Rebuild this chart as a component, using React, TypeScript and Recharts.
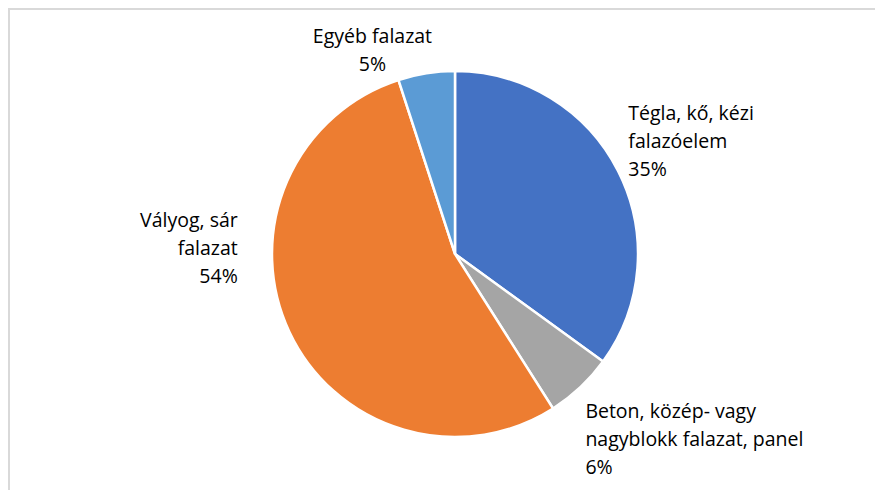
import { PieChart, Pie, Cell } from "recharts";

const categories = [
  ["Tégla, kő, kézi", "falazóelem"],
  ["Beton, közép- vagy", "nagyblokk falazat, panel"],
  ["Vályog, sár", "falazat"],
  ["Egyéb falazat"],
];
const shares = [35, 6, 54, 5];
const sliceColors = ["#4472C4", "#A5A5A5", "#ED7D31", "#5B9BD5"];

// label placement relative to the slice's mid-angle point (outerRadius + 25)
const labelLayout = [
  { dx: -12, dy: -20, anchor: "start" },
  { dx: -12, dy: 32, anchor: "start" },
  { dx: -29, dy: -96, anchor: "end" },
  { dx: -50, dy: 0, anchor: "middle" },
];

const chartData = categories.map((lines, i) => ({
  name: lines.join(" "),
  lines,
  value: shares[i],
}));

const RADIAN = Math.PI / 180;
const LINE_H = 28;

const renderLabel = (props: any) => {
  const { cx, cy, midAngle, outerRadius, index, payload } = props;
  const r = outerRadius + 25;
  const px = cx + r * Math.cos(-midAngle * RADIAN);
  const py = cy + r * Math.sin(-midAngle * RADIAN);
  const lay = labelLayout[index];
  const lines: string[] = [...payload.lines, `${payload.value}%`];
  const x = px + lay.dx;
  const yCenter = py + lay.dy;
  const yStart = yCenter - ((lines.length - 1) * LINE_H) / 2;
  return (
    <text
      x={x}
      y={yStart}
      textAnchor={lay.anchor}
      dominantBaseline="central"
      fill="#000"
      fontSize={19.5}
      fontFamily="'Open Sans', sans-serif"
    >
      {lines.map((ln, i) => (
        <tspan key={i} x={x} y={yStart + i * LINE_H}>
          {ln}
        </tspan>
      ))}
    </text>
  );
};

export default function App() {
  return (
    <>
      <style>{`body{overflow:hidden}`}</style>
      <div
        style={{
          width: 880,
          height: 490,
          border: "2px solid #d9d9d9",
          background: "#fff",
        }}
      >
        <PieChart width={873} height={480}>
          <Pie
            data={chartData}
            dataKey="value"
            nameKey="name"
            cx={440}
            cy={239}
            outerRadius={183}
            startAngle={90}
            endAngle={-270}
            stroke="#fff"
            strokeWidth={2.5}
            label={renderLabel}
            labelLine={false}
            isAnimationActive={false}
          >
            {chartData.map((_, i) => (
              <Cell key={`cell-${i}`} fill={sliceColors[i]} />
            ))}
          </Pie>
        </PieChart>
      </div>
    </>
  );
}
